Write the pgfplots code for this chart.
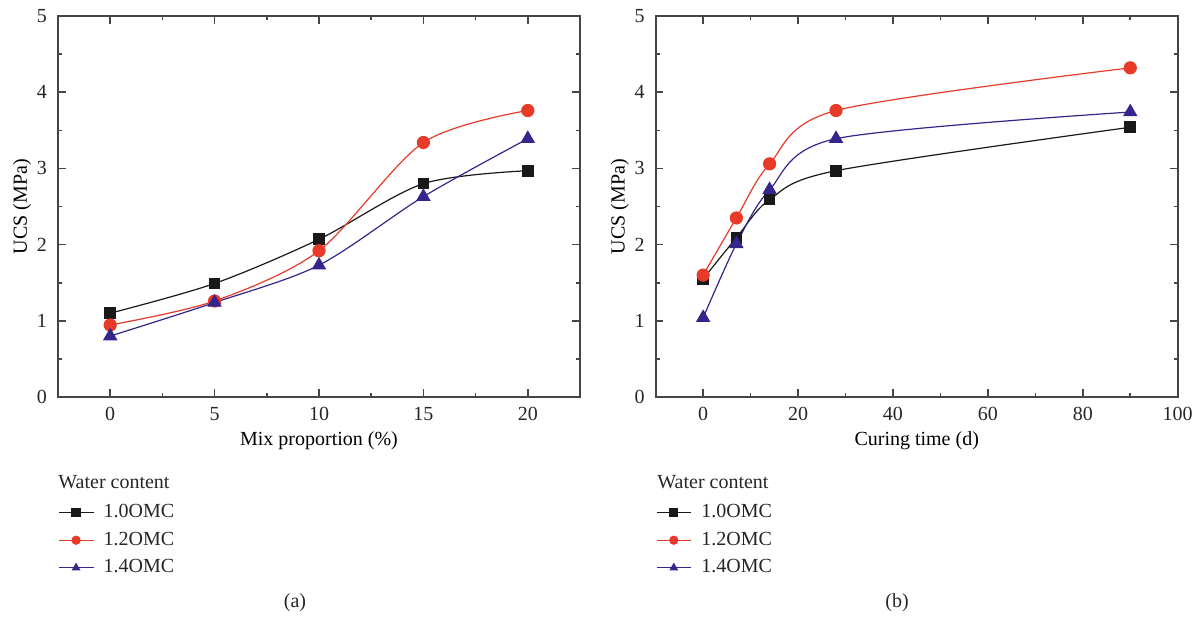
\documentclass[border=0pt]{standalone}
\usepackage{fontspec}
\setmainfont{Liberation Serif}
\usepackage{pgfplots}
\pgfplotsset{compat=1.18}
\definecolor{cred}{RGB}{232,58,40}
\definecolor{cblue}{RGB}{52,38,140}
\definecolor{cblk}{RGB}{25,25,25}
\definecolor{caxis}{RGB}{70,70,70}
\pgfplotsset{
  myaxis/.style={
    scale only axis, width=261pt, height=190.5pt,
    anchor=south west,
    ymin=0, ymax=5, ytick={0,1,2,3,4,5},
    minor x tick num=1, minor y tick num=1,
    tick align=inside,
    major tick length=3.8pt, minor tick length=2pt,
    axis line style={caxis, line width=0.9pt},
    every tick/.style={caxis, line width=0.8pt},
    /pgf/number format/assume math mode=true,
    tick label style={font=\fontsize{10}{12}\selectfont, text=black!85},
    yticklabel style={xshift=-2pt},
    xticklabel style={yshift=-1.5pt},
    label style={font=\fontsize{10}{12}\selectfont, text=black!85},
    every axis x label/.style={at={(axis description cs:0.5,-0.1155)}, anchor=center},
    every axis y label/.style={at={(axis description cs:-0.069,0.5)}, anchor=center, rotate=90},
    ylabel={UCS (MPa)},
    legend style={at={(0,0)}, anchor=north west, yshift=-53pt,
      draw=none, fill=none, inner sep=0pt, row sep=4.6pt,
      font=\fontsize{10}{12}\selectfont, text=black!85,
      nodes={inner sep=0pt, text height=7pt, text depth=2.2pt},
      /tikz/every odd column/.append style={column sep=5pt}},
    legend cell align=left,
    legend image post style={mark size=2pt},
  },
  s1/.style={cblk, line width=0.6pt, smooth, tension=0.5, mark=square*, mark size=2.6pt, mark options={solid, fill=cblk}},
  s2/.style={cred, line width=0.6pt, smooth, tension=0.5, mark=*, mark size=3pt, mark options={solid, fill=cred}},
  s3/.style={cblue, line width=0.6pt, smooth, tension=0.5, mark=triangle*, mark size=3.6pt, mark options={solid, fill=cblue}},
}
\begin{document}
\begin{tikzpicture}
\useasboundingbox (0pt,0pt) rectangle (601pt,-309pt);
\begin{axis}[myaxis, at={(29pt,-198.5pt)},
  xmin=-2.5, xmax=22.5, xtick={0,5,10,15,20},
  xlabel={Mix proportion (\%)}]
\addplot[s1] coordinates {(0,1.10) (5,1.49) (10,2.07) (15,2.80) (20,2.97)};
\addlegendentry{1.0OMC}
\addplot[s2] coordinates {(0,0.945) (5,1.26) (10,1.92) (15,3.34) (20,3.76)};
\addlegendentry{1.2OMC}
\addplot[s3] coordinates {(0,0.80) (5,1.24) (10,1.73) (15,2.63) (20,3.39)};
\addlegendentry{1.4OMC}
\end{axis}
\begin{axis}[myaxis, at={(327.85pt,-198.5pt)},
  xmin=-10, xmax=100, xtick={0,20,40,60,80,100},
  xlabel={Curing time (d)}]
\addplot[s1] coordinates {(0,1.55) (7,2.09) (14,2.59) (28,2.97) (90,3.54)};
\addlegendentry{1.0OMC}
\addplot[s2] coordinates {(0,1.60) (7,2.35) (14,3.06) (28,3.76) (90,4.32)};
\addlegendentry{1.2OMC}
\addplot[s3] coordinates {(0,1.04) (7,2.01) (14,2.72) (28,3.39) (90,3.74)};
\addlegendentry{1.4OMC}
\end{axis}
\node[anchor=west, inner sep=0pt, text=black!85, font=\fontsize{10}{12}\selectfont] at (29pt,-241pt) {Water content};
\node[anchor=west, inner sep=0pt, text=black!85, font=\fontsize{10}{12}\selectfont] at (328.5pt,-241pt) {Water content};
\node[text=black!85, font=\fontsize{10}{12}\selectfont] at (147.5pt,-301.5pt) {(a)};
\node[text=black!85, font=\fontsize{10}{12}\selectfont] at (448.5pt,-301.5pt) {(b)};
\end{tikzpicture}
\end{document}
